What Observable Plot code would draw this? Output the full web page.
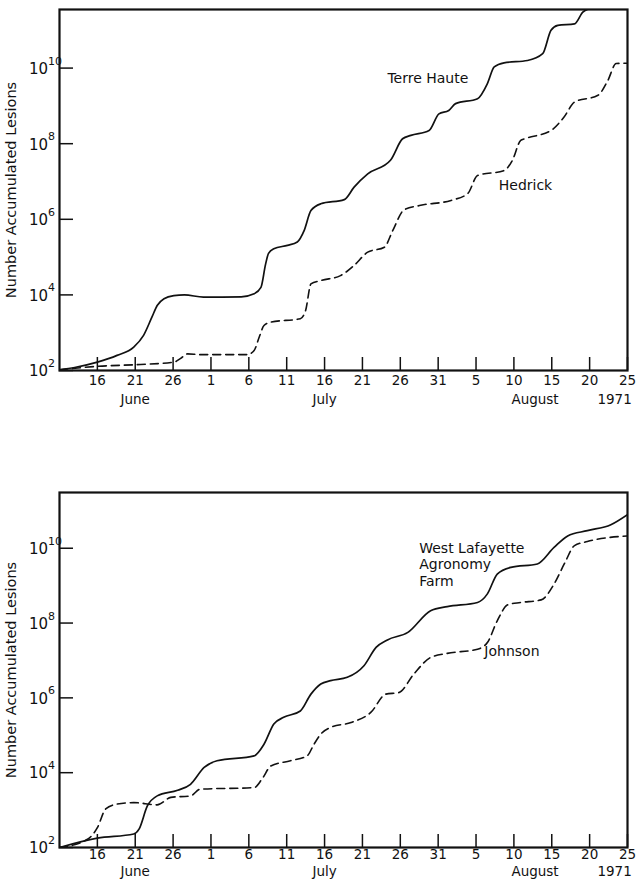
<!DOCTYPE html>
<html>
<head>
<meta charset="utf-8">
<script src="https://cdn.jsdelivr.net/npm/d3@7"></script>
<script src="https://cdn.jsdelivr.net/npm/@observablehq/plot@0.6"></script>
<style>
  html, body { margin: 0; padding: 0; background: #fff; }
  svg { display: block; }
</style>
</head>
<body>
<div id="chart"></div>
<script>
// ---- Data (days since 11 June 1971, log10 of accumulated lesions) ----
const terreHauteDay = [0, 2, 5, 7.6, 9.8, 11.1, 12.2, 12.9, 13.8, 15.1, 16.5, 19, 24, 25.7, 26.6, 27.2, 27.6, 28.3, 30.1, 31.4, 32.3, 33.2, 34.5, 37.6, 38.9, 40.7, 43.7, 45.3, 46.4, 48.8, 50.1, 51.4, 52.3, 55.2, 56.5, 57.4, 58.7, 61.8, 63.8, 64.9, 65.8, 68.0, 69.1, 70.2, 71.5];
const terreHauteLog = [2.02, 2.08, 2.22, 2.40, 2.62, 2.93, 3.41, 3.72, 3.90, 3.98, 4.0, 3.94, 3.95, 4.03, 4.2, 4.8, 5.1, 5.22, 5.31, 5.40, 5.70, 6.23, 6.41, 6.52, 6.85, 7.20, 7.56, 8.13, 8.22, 8.35, 8.79, 8.88, 9.06, 9.19, 9.59, 10.03, 10.14, 10.20, 10.38, 11.0, 11.13, 11.17, 11.48, 11.6, 11.75];

const hedrickDay = [0, 5, 10.7, 15.1, 16, 16.9, 18.6, 24.8, 25.7, 26.4, 27, 27.9, 31.8, 32.5, 33.2, 34.5, 37.1, 38.9, 40.7, 42.9, 44.0, 45.5, 47.7, 51.7, 53.9, 55.2, 58.7, 59.8, 60.9, 61.4, 64.9, 66.6, 68, 71.1, 72.4, 73.5, 75];
const hedrickLog = [2.02, 2.11, 2.16, 2.22, 2.32, 2.44, 2.42, 2.42, 2.53, 2.9, 3.19, 3.28, 3.37, 3.59, 4.29, 4.38, 4.51, 4.78, 5.13, 5.26, 5.70, 6.25, 6.37, 6.50, 6.68, 7.16, 7.29, 7.56, 8.09, 8.13, 8.35, 8.70, 9.10, 9.28, 9.67, 10.12, 10.13];

const westLafayetteDay = [0, 5, 9.8, 10.5, 11.6, 12.9, 15.6, 17.3, 19.1, 20.8, 25.7, 27.0, 28.3, 29.6, 31.8, 33.2, 34.5, 35.8, 38, 40.2, 41.8, 43.3, 46, 49, 51.2, 55.2, 56.5, 57.8, 59.6, 63.1, 65.3, 67.1, 69.7, 72.8, 75];
const westLafayetteLog = [2.0, 2.25, 2.36, 2.49, 3.11, 3.38, 3.53, 3.69, 4.14, 4.32, 4.45, 4.76, 5.30, 5.48, 5.65, 6.10, 6.37, 6.46, 6.55, 6.86, 7.35, 7.55, 7.75, 8.33, 8.44, 8.55, 8.78, 9.31, 9.49, 9.58, 10.02, 10.33, 10.47, 10.63, 10.90];

const johnsonDay = [0, 3.7, 5, 6.1, 7.6, 9.8, 12.9, 14.7, 17.3, 18.6, 25.7, 26.8, 27.9, 30.5, 32.7, 33.6, 34.5, 35.8, 38.5, 41.1, 43.1, 44.8, 46.8, 49, 51.2, 55.2, 56.5, 57.8, 59.2, 60.9, 63.6, 65.3, 66.7, 68, 69.7, 75];
const johnsonLog = [2.0, 2.22, 2.53, 3.03, 3.16, 3.20, 3.14, 3.34, 3.38, 3.56, 3.60, 3.85, 4.18, 4.32, 4.45, 4.76, 5.03, 5.21, 5.34, 5.61, 6.10, 6.14, 6.64, 7.08, 7.19, 7.30, 7.48, 8.06, 8.49, 8.55, 8.62, 9.04, 9.6, 10.07, 10.18, 10.33];

const tickDates = ["1971-06-16","1971-06-21","1971-06-26","1971-07-01","1971-07-06","1971-07-11","1971-07-16","1971-07-21","1971-07-26","1971-07-31","1971-08-05","1971-08-10","1971-08-15","1971-08-20","1971-08-25"];
const tickLabels = ["16","21","26","1","6","11","16","21","26","31","5","10","15","20","25"];
const yTicks = [1e2, 1e4, 1e6, 1e8, 1e10];
const yTickBase = "10";
const yTickExponents = ["2", "4", "6", "8", "10"];
const monthLabels = ["June", "July", "August", "1971"];
const monthLabelDates = ["1971-06-21T00:00Z", "1971-07-16T00:00Z", "1971-08-12T19:00Z", "1971-08-23T07:00Z"];
const yTitle = "Number Accumulated Lesions";

// ---- helpers ----
const start = Date.UTC(1971, 5, 11);
const toDate = d => new Date(start + d * 864e5);
const series = (days, logs) => days.map((d, i) => ({date: toDate(d), value: Math.pow(10, logs[i])}));
const tickDateObjs = tickDates.map(s => new Date(s + "T00:00Z"));
const FONT = "DejaVu Sans";

function panel({solid, dashed, labels, yTopExp, height, marginTop, marginBottom, tickPad, monthDy}) {
  const ml = 59, mr = 13, W = 640;
  const plotW = W - ml - mr;
  const plotH = height - marginTop - marginBottom;
  return Plot.plot({
    width: W, height, marginTop, marginBottom, marginLeft: ml, marginRight: mr,
    style: {fontFamily: FONT, fontSize: "13px", color: "#111", background: "#fff"},
    x: {type: "utc", domain: [toDate(0), toDate(75)], axis: null},
    y: {type: "log", domain: [100, Math.pow(10, yTopExp)], axis: null},
    marks: [
      Plot.ruleX(tickDateObjs, {x: d => d, insetTop: plotH - 13, stroke: "#111", strokeWidth: 1.5}),
      Plot.ruleY(yTicks, {y: d => d, insetRight: plotW - 14, stroke: "#111", strokeWidth: 1.5}),
      Plot.text(tickDateObjs, {x: d => d, text: (d, i) => tickLabels[i], frameAnchor: "bottom", lineAnchor: "top", dy: tickPad, fontSize: 13.5}),
      Plot.text(yTicks, {y: d => d, text: () => yTickBase, frameAnchor: "left", textAnchor: "end", dx: -11.5, dy: 1, fontSize: 15}),
      Plot.text(yTicks, {y: d => d, text: (d, i) => yTickExponents[i], frameAnchor: "left", textAnchor: "start", dx: -11.5, dy: -7, fontSize: 11}),
      Plot.text(monthLabels, {x: (d, i) => new Date(monthLabelDates[i]), text: d => d, frameAnchor: "bottom", dy: monthDy, fontSize: 13.5}),
      Plot.text([yTitle], {frameAnchor: "left", text: d => d, textAnchor: "middle", rotate: -90, dx: -48, fontSize: 14.5}),
      Plot.line(solid, {x: "date", y: "value", curve: "monotone-x", stroke: "#111", strokeWidth: 1.7, clip: true}),
      Plot.line(dashed, {x: "date", y: "value", curve: "monotone-x", stroke: "#111", strokeWidth: 1.6, strokeDasharray: "8,5", clip: true}),
      Plot.text(labels, {x: d => toDate(d.day), y: d => Math.pow(10, d.logy), text: "text", textAnchor: "start", fontSize: 14, lineHeight: 1.19}),
      Plot.frame({stroke: "#111", strokeWidth: 2.2})
    ]
  });
}

const topLabels = [
  {text: "Terre Haute", day: 43.3, logy: 9.74},
  {text: "Hedrick", day: 58.0, logy: 6.92}
];
const bottomLabels = [
  {text: "West Lafayette\nAgronomy\nFarm", day: 47.5, logy: 9.58},
  {text: "Johnson", day: 56.1, logy: 7.26}
];

const chart = document.getElementById("chart");
chart.appendChild(panel({
  solid: series(terreHauteDay, terreHauteLog),
  dashed: series(hedrickDay, hedrickLog),
  labels: topLabels, yTopExp: 11.55,
  height: 420, marginTop: 9, marginBottom: 50, tickPad: 5, monthDy: 33
}));
chart.appendChild(panel({
  solid: series(westLafayetteDay, westLafayetteLog),
  dashed: series(johnsonDay, johnsonLog),
  labels: bottomLabels, yTopExp: 11.49,
  height: 464, marginTop: 72, marginBottom: 37, tickPad: 2, monthDy: 28.5
}));
</script>
</body>
</html>
